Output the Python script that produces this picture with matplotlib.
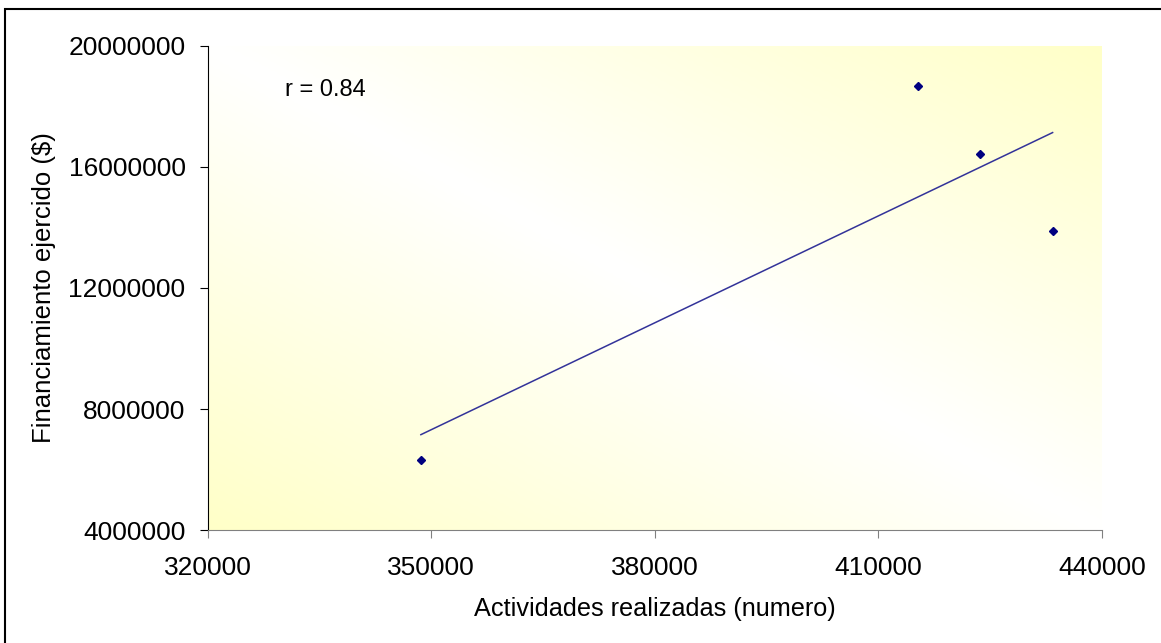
import numpy as np
import matplotlib.pyplot as plt
from matplotlib.colors import LinearSegmentedColormap
from matplotlib.patches import Rectangle

# data
actividades = [348600, 415300, 423600, 433400]
financiamiento = [6320000, 18670000, 16420000, 13870000]

x_ticks = [320000, 350000, 380000, 410000, 440000]
y_ticks = [4000000, 8000000, 12000000, 16000000, 20000000]

plt.rcParams["font.family"] = ["Liberation Sans", "DejaVu Sans"]
FS = 19

fig = plt.figure(figsize=(11.61, 6.43), dpi=100)
ax = fig.add_axes([0.179, 0.1757, 0.770, 0.7528])

# gradient background: yellow at bottom-left / top-right, white along the other diagonal
u, v = np.meshgrid(np.linspace(0, 1, 300), np.linspace(0, 1, 200))
g = np.abs(u + v - 1.0)
cmap = LinearSegmentedColormap.from_list("bg", ["#ffffff", "#ffffc8"])
ax.imshow(g, cmap=cmap, origin="lower", extent=[0, 1, 0, 1],
          transform=ax.transAxes, aspect="auto", zorder=0, vmin=0, vmax=1)

x = np.array(actividades, float)
y = np.array(financiamiento, float)
m, b = np.polyfit(x, y, 1)
r = np.corrcoef(x, y)[0, 1]
xs = np.array([x.min(), x.max()])
ax.plot(xs, m * xs + b, color="#333399", lw=1.1, zorder=2)
ax.plot(x, y, "D", color="#000080", ms=4.5, zorder=3)

ax.text(0.086, 0.909, f"r = {r:.2f}", transform=ax.transAxes,
        fontsize=17, va="center", ha="left")

ax.set_xlim(x_ticks[0], x_ticks[-1])
ax.set_ylim(y_ticks[0], y_ticks[-1])
ax.set_xticks(x_ticks)
ax.set_yticks(y_ticks)
ax.set_xticklabels([str(t) for t in x_ticks])
ax.set_yticklabels([str(t) for t in y_ticks])

for s in ("top", "right"):
    ax.spines[s].set_visible(False)
ax.spines["left"].set_color("black")
ax.spines["bottom"].set_color("#808080")
ax.tick_params(axis="x", colors="#808080", labelcolor="black", length=6,
               labelsize=FS, pad=13)
ax.tick_params(axis="y", colors="black", length=6, labelsize=FS, pad=10)

ax.set_xlabel("Actividades realizadas (numero)", fontsize=18.2, labelpad=12)
ax.set_ylabel("Financiamiento ejercido ($)", fontsize=18.5, labelpad=9)

# outer chart frame
fig.patches.append(Rectangle((0.0047, -0.02), 1.1, 1.006, transform=fig.transFigure,
                             fill=False, edgecolor="black", lw=1.5, zorder=10))

fig.savefig("out.png", dpi=100)
